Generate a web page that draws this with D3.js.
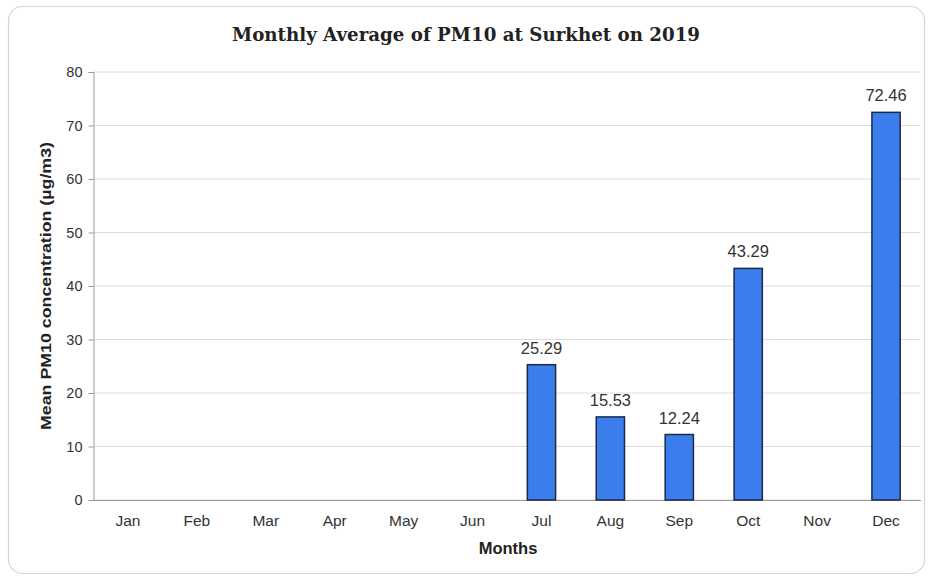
<!DOCTYPE html>
<html><head><meta charset="utf-8">
<script src="https://cdn.jsdelivr.net/npm/d3@7"></script>
<style>body{margin:0;background:#fff;}svg{display:block;}</style>
</head><body>
<svg id="c" width="931" height="578"></svg>
<script>
const months = ["Jan","Feb","Mar","Apr","May","Jun","Jul","Aug","Sep","Oct","Nov","Dec"];
const values = [null,null,null,null,null,null,25.29,15.53,12.24,43.29,null,72.46];
const yTicks = [0,10,20,30,40,50,60,70,80];

const svg = d3.select("#c");
const W = 931, H = 578;
const m = {left:93.5, right:10.5, top:72, bottom:78};
const iw = W - m.left - m.right, ih = H - m.top - m.bottom;
const SANS = "Liberation Sans, Arial, sans-serif";

svg.append("rect").attr("x",8.5).attr("y",6.5).attr("width",916).attr("height",567)
  .attr("rx",14).attr("fill","#fff").attr("stroke","#d4d4d4").attr("stroke-width",1.2);

const x = d3.scaleBand().domain(months).range([0, iw]).paddingInner(0.59).paddingOuter(0.295);
const y = d3.scaleLinear().domain([0,80]).range([ih,0]);

const g = svg.append("g").attr("transform",`translate(${m.left},${m.top})`);

g.selectAll(".grid").data(yTicks).enter().append("line")
  .attr("x1",0).attr("x2",iw).attr("y1",d=>y(d)).attr("y2",d=>y(d))
  .attr("stroke","#dcdcdc").attr("stroke-width",1);

const ya = g.append("g").call(d3.axisLeft(y).tickValues(yTicks).tickSize(5).tickPadding(6));
ya.select(".domain").attr("stroke","#9a9a9a");
ya.selectAll(".tick line").attr("stroke","#9a9a9a");
ya.selectAll("text").attr("font-family",SANS).attr("font-size",14.5).attr("fill","#333");

const xa = g.append("g").attr("transform",`translate(0,${ih})`).call(d3.axisBottom(x).tickSize(0).tickPadding(15));
xa.select(".domain").attr("stroke","#9a9a9a");
xa.selectAll("text").attr("font-family",SANS).attr("font-size",15.5).attr("fill","#333");

const data = months.map((mo,i)=>({m:mo,v:values[i]})).filter(d=>d.v!==null);
g.selectAll(".bar").data(data).enter().append("rect")
  .attr("x",d=>x(d.m)).attr("width",x.bandwidth())
  .attr("y",d=>y(d.v)).attr("height",d=>ih-y(d.v))
  .attr("fill","#3b7ded").attr("stroke","#1b2a48").attr("stroke-width",1.5);

g.selectAll(".lbl").data(data).enter().append("text")
  .attr("x",d=>x(d.m)+x.bandwidth()/2).attr("y",d=>y(d.v)-11)
  .attr("text-anchor","middle").attr("font-family",SANS)
  .attr("font-size",16.5).attr("fill","#333").text(d=>d.v.toFixed(2));

svg.append("text").attr("x",466).attr("y",41).attr("text-anchor","middle")
  .attr("font-family","DejaVu Serif, serif").attr("font-weight","bold").attr("font-size",19)
  .attr("textLength",468).attr("lengthAdjust","spacingAndGlyphs")
  .attr("fill","#222").text("Monthly Average of PM10 at Surkhet on 2019");

svg.append("text").attr("x",m.left+iw/2+1).attr("y",554).attr("text-anchor","middle")
  .attr("font-family",SANS).attr("font-weight","bold").attr("font-size",16.5)
  .attr("fill","#222").text("Months");

svg.append("text").attr("transform","translate(51,286) rotate(-90)").attr("text-anchor","middle")
  .attr("font-family",SANS).attr("font-weight","bold").attr("font-size",15)
  .attr("textLength",288).attr("lengthAdjust","spacingAndGlyphs")
  .attr("fill","#222").text("Mean PM10 concentration (µg/m3)");
</script>
</body></html>
